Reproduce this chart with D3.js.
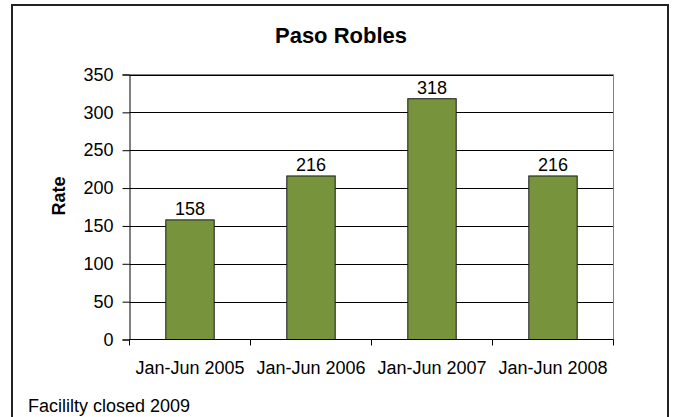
<!DOCTYPE html>
<html>
<head>
<meta charset="utf-8">
<script src="https://cdn.jsdelivr.net/npm/d3@7/dist/d3.min.js"></script>
<style>
  html, body { margin: 0; padding: 0; background: #fff; }
  svg { display: block; font-family: "Liberation Sans", Arial, sans-serif; }
</style>
</head>
<body>
<svg id="chart" width="673" height="417"></svg>
<script>
// Half-year rate at the Paso Robles facility
const categories = ["Jan-Jun 2005", "Jan-Jun 2006", "Jan-Jun 2007", "Jan-Jun 2008"];
const rates = [158, 216, 318, 216];
const yTicks = [0, 50, 100, 150, 200, 250, 300, 350];
const titleText = "Paso Robles";
const yTitle = "Rate";
const footnote = "Facililty closed 2009";

const svg = d3.select("#chart");

// outer chart frame (bottom edge runs past the page)
svg.append("rect")
  .attr("x", 12).attr("y", 5)
  .attr("width", 656).attr("height", 430)
  .attr("fill", "#fff")
  .attr("stroke", "#222").attr("stroke-width", 2);

const plot = { left: 129.5, right: 613.5, top: 74.5, bottom: 339.5 };

const x = d3.scaleBand()
  .domain(categories)
  .range([plot.left, plot.right])
  .paddingInner(0.6)
  .paddingOuter(0.3);

const y = d3.scaleLinear()
  .domain([0, 350])
  .range([plot.bottom, plot.top]);

// horizontal gridlines
svg.append("g")
  .selectAll("line")
  .data(yTicks.filter(t => t > 0))
  .join("line")
  .attr("x1", plot.left).attr("x2", plot.right)
  .attr("y1", d => Math.round(y(d)) + 0.5)
  .attr("y2", d => Math.round(y(d)) + 0.5)
  .attr("stroke", "#000").attr("stroke-width", 1);

// plot area edges on top and right
svg.append("path")
  .attr("d", `M${plot.left},${plot.top}H${plot.right}V${plot.bottom}`)
  .attr("fill", "none")
  .attr("stroke", "#808080").attr("stroke-width", 1);

// bars
svg.append("g")
  .selectAll("rect")
  .data(rates)
  .join("rect")
  .attr("x", (d, i) => x(categories[i]))
  .attr("y", d => y(d))
  .attr("width", x.bandwidth())
  .attr("height", d => y(0) - y(d))
  .attr("fill", "#77933C")
  .attr("stroke", "#1a1a1a").attr("stroke-width", 1);

// value labels
svg.append("g")
  .selectAll("text")
  .data(rates)
  .join("text")
  .attr("x", (d, i) => x(categories[i]) + x.bandwidth() / 2)
  .attr("y", d => y(d) - 5)
  .attr("text-anchor", "middle")
  .attr("font-size", 18)
  .attr("fill", "#000")
  .text(d => d);

// y axis
const yAxis = d3.axisLeft(y).tickValues(yTicks).tickSize(7).tickPadding(9);
const gy = svg.append("g")
  .attr("transform", `translate(${plot.left},0)`)
  .call(yAxis);
gy.select(".domain").attr("stroke", "#000");
gy.selectAll(".tick line").attr("stroke", "#000");
gy.selectAll(".tick text")
  .attr("font-size", 18).attr("fill", "#000")
  .attr("font-family", "Liberation Sans, Arial, sans-serif");

// x axis with ticks on category boundaries
const step = (plot.right - plot.left) / categories.length;
const gx = svg.append("g");
gx.append("line")
  .attr("x1", plot.left).attr("x2", plot.right)
  .attr("y1", plot.bottom).attr("y2", plot.bottom)
  .attr("stroke", "#000");
gx.selectAll("line.tk")
  .data(d3.range(categories.length + 1))
  .join("line")
  .attr("class", "tk")
  .attr("x1", i => plot.left + i * step).attr("x2", i => plot.left + i * step)
  .attr("y1", plot.bottom).attr("y2", plot.bottom + 6)
  .attr("stroke", "#000");
gx.selectAll("text")
  .data(categories)
  .join("text")
  .attr("x", d => x(d) + x.bandwidth() / 2)
  .attr("y", 374)
  .attr("text-anchor", "middle")
  .attr("font-size", 18)
  .attr("fill", "#000")
  .text(d => d);

// titles
svg.append("text")
  .attr("x", 341).attr("y", 43)
  .attr("text-anchor", "middle")
  .attr("font-size", 22).attr("font-weight", "bold")
  .attr("fill", "#000")
  .text(titleText);

svg.append("text")
  .attr("transform", `translate(65,196) rotate(-90)`)
  .attr("text-anchor", "middle")
  .attr("font-size", 18).attr("font-weight", "bold")
  .attr("fill", "#000")
  .text(yTitle);

svg.append("text")
  .attr("x", 28).attr("y", 412)
  .attr("font-size", 18)
  .attr("fill", "#000")
  .text(footnote);
</script>
</body>
</html>
